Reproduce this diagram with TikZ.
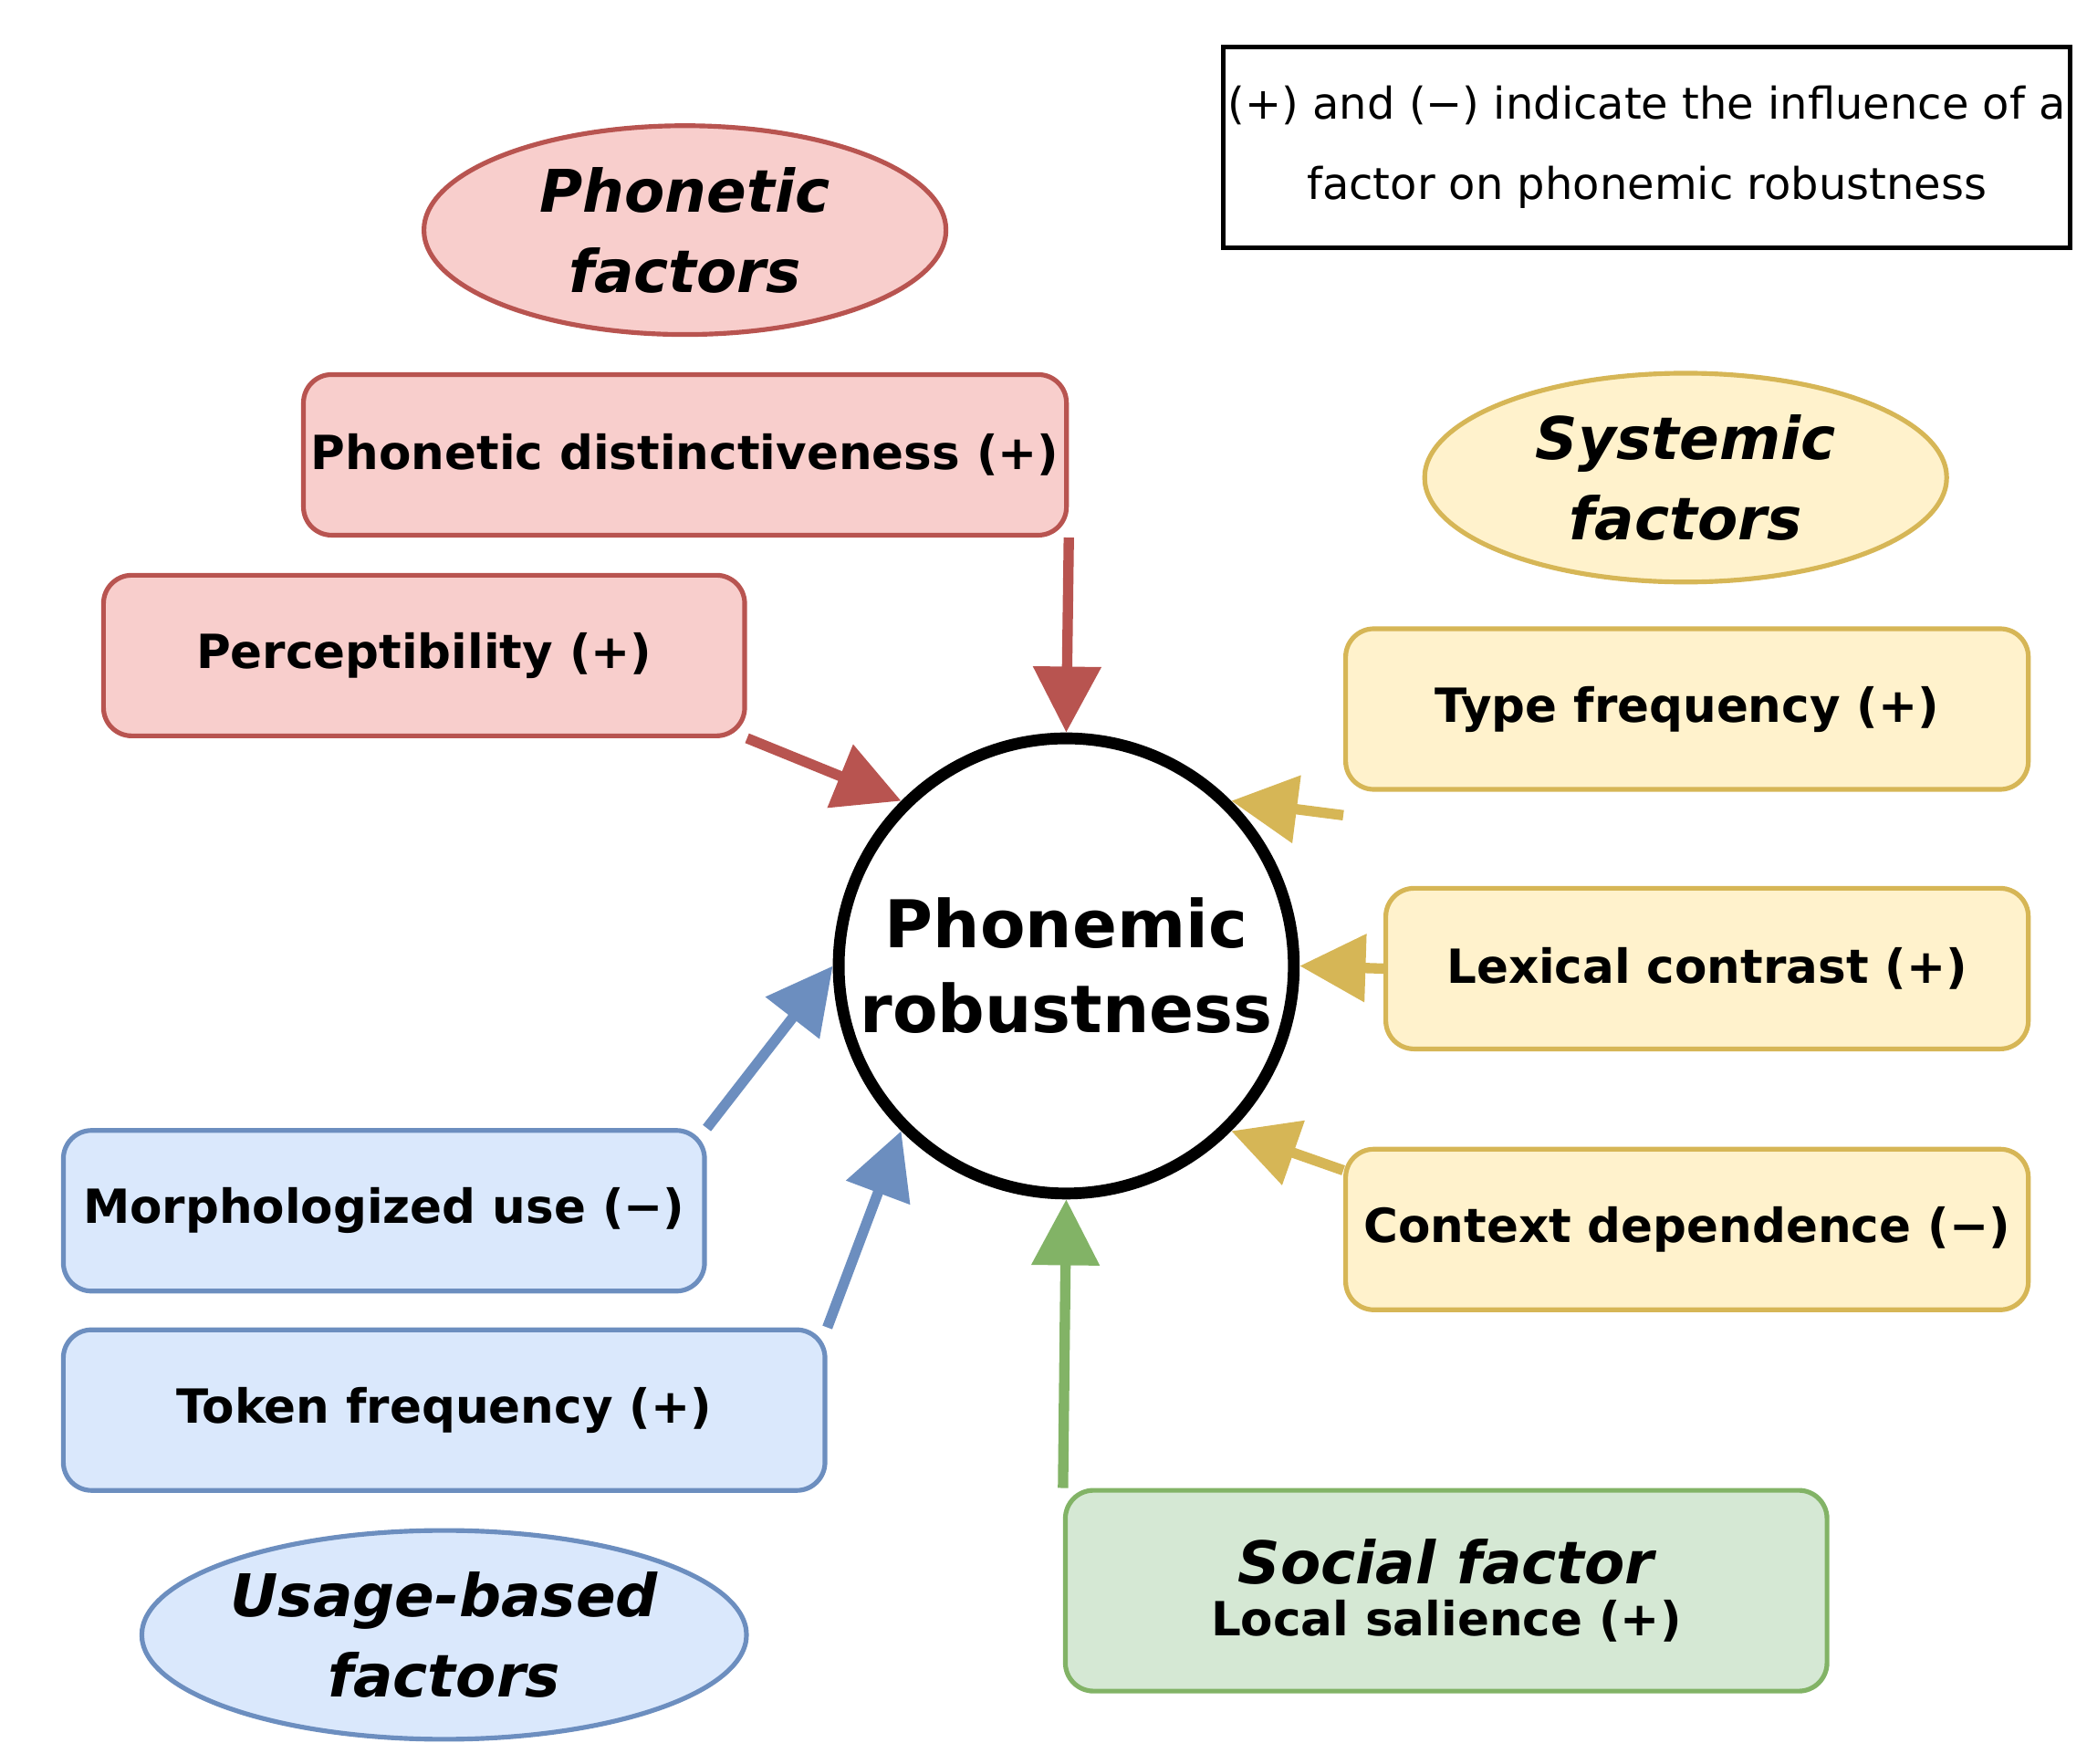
\documentclass[tikz,border=0pt]{standalone}
\usepackage{fontspec}
\setmainfont{DejaVu Sans}
\usetikzlibrary{arrows.meta,shapes.geometric}
\definecolor{redfill}{HTML}{F8CECC}\definecolor{reddraw}{HTML}{B85450}
\definecolor{yelfill}{HTML}{FFF2CC}\definecolor{yeldraw}{HTML}{D6B656}
\definecolor{blufill}{HTML}{DAE8FC}\definecolor{bludraw}{HTML}{6C8EBF}
\definecolor{grnfill}{HTML}{D5E8D4}\definecolor{grndraw}{HTML}{82B366}
\begin{document}
\begin{tikzpicture}[x=0.01cm,y=-0.01cm,
                    every node/.style={font=\bfseries\fontsize{10}{12}\selectfont},
                    semithick]
  \tikzstyle{factor}=[rectangle,rounded corners=6pt,line width=1pt,minimum height=1.2cm,inner sep=1pt]
  \tikzstyle{group}=[ellipse,line width=1pt,minimum width=3.9cm,minimum height=1.56cm,align=center,
                     inner sep=0pt,font=\bfseries\itshape\fontsize{12.5}{17}\selectfont]
  \tikzstyle{infl}=[line width=2.2pt,-{Triangle[length=14pt,width=14pt]}]

  \useasboundingbox (0,0) rectangle (1560,1318);

  \node[draw,line width=1pt,minimum width=6.3cm,minimum height=1.5cm,align=center,inner sep=1pt,
        font=\fontsize{9.3}{17}\selectfont] (note) at (1231,110)
        {(+) and (−) indicate the influence of a\\factor on phonemic robustness};

  \node[circle,draw,line width=2.5pt,minimum size=3.4cm,inner sep=0pt,align=center,
        font=\bfseries\fontsize{14}{18}\selectfont] (c) at (797,722) {Phonemic\\robustness};

  \node[group,fill=redfill,draw=reddraw] (phon) at (512,172) {Phonetic\\factors};
  \node[factor,fill=redfill,draw=reddraw,minimum width=5.7cm] (dist) at (512,340) {Phonetic distinctiveness (+)};
  \node[factor,fill=redfill,draw=reddraw,minimum width=4.79cm] (perc) at (317,490) {Perceptibility (+)};

  \node[group,fill=yelfill,draw=yeldraw] (sys) at (1260,357) {Systemic\\factors};
  \node[factor,fill=yelfill,draw=yeldraw,minimum width=5.1cm] (type) at (1261,530) {Type frequency (+)};
  \node[factor,fill=yelfill,draw=yeldraw,minimum width=4.8cm] (lex) at (1276,724) {Lexical contrast (+)};
  \node[factor,fill=yelfill,draw=yeldraw,minimum width=5.1cm] (ctx) at (1261,919) {Context dependence (−)};

  \node[factor,fill=blufill,draw=bludraw,minimum width=4.79cm] (morph) at (287,905) {Morphologized use (−)};
  \node[factor,fill=blufill,draw=bludraw,minimum width=5.69cm] (token) at (332,1054) {Token frequency (+)};
  \node[group,fill=blufill,draw=bludraw] (usage) at (332,1222) {Usage-based\\factors};

  \node[factor,fill=grnfill,draw=grndraw,minimum width=5.69cm,minimum height=1.5cm,align=center,
        font=\bfseries\fontsize{10}{11}\selectfont] (soc) at (1081,1189)
        {{\itshape\fontsize{12.5}{13}\selectfont Social factor}\\Local salience (+)};

  \draw[infl,reddraw] (dist.south east) -- (c.north);
  \draw[infl,reddraw] (perc.south east) -- (c.135);
  \draw[infl,yeldraw] ([yshift=-5pt]type.south west) -- (c.45);
  \draw[infl,yeldraw] (lex.west) -- (c.east);
  \draw[infl,yeldraw] ([yshift=-5pt]ctx.north west) -- (c.-45);
  \draw[infl,bludraw] (morph.north east) -- (c.180);
  \draw[infl,bludraw] (token.north east) -- (c.-135);
  \draw[infl,grndraw] (soc.north west) -- (c.south);
\end{tikzpicture}
\end{document}
